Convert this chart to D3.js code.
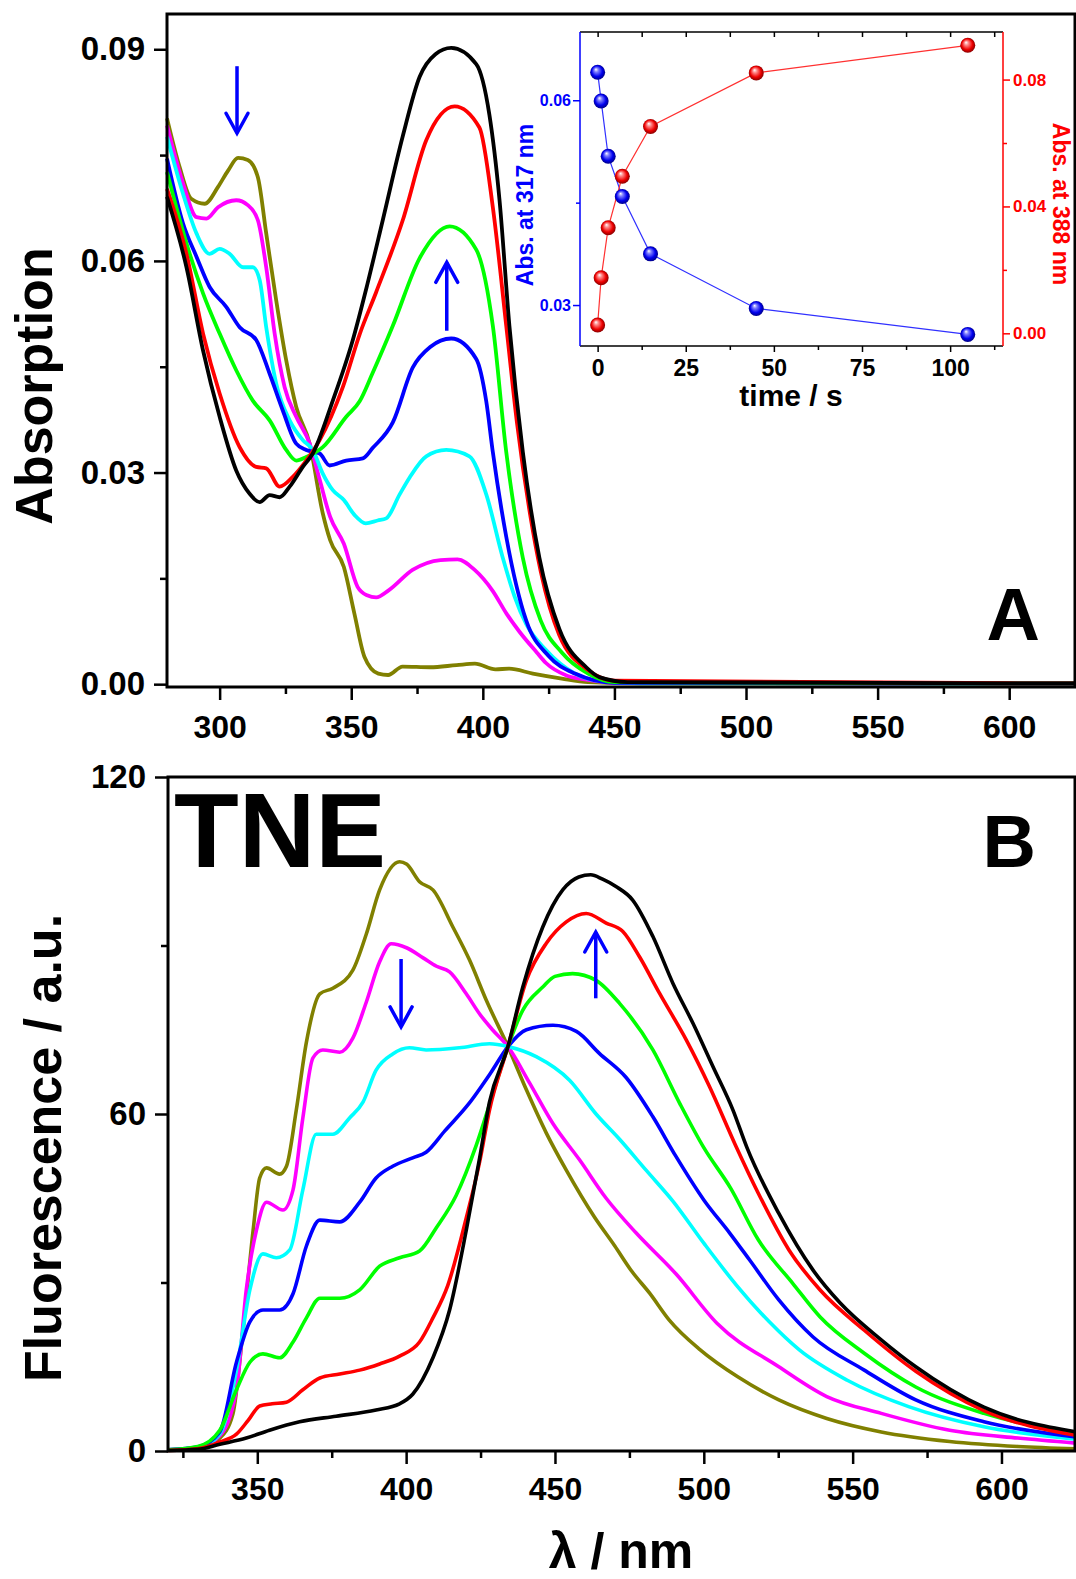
<!DOCTYPE html>
<html>
<head>
<meta charset="utf-8">
<script src="https://d3js.org/d3.v7.min.js"></script>
<style>
body { margin: 0; background: #fff; }
text { font-family: 'Liberation Sans', Arial, sans-serif; font-weight: bold; }
</style>
</head>
<body>
<svg id="chart" width="1076" height="1579"></svg>
<script>

// ---- Panel A : absorption spectra [wavelength nm, absorbance] ----
var absOlive = [[280,0.0802],[284.8,0.0733],[289.2,0.0688],[294.3,0.0681],[299.4,0.0705],[303.2,0.0728],[307,0.0746],[310.7,0.0743],[314.5,0.0719],[317.7,0.0639],[321.5,0.0544],[325.3,0.0459],[329.1,0.0393],[334.2,0.0341],[339.2,0.0242],[342,0.0204],[347.2,0.0166],[351.2,0.0100],[355,0.0039],[360.3,0.0015],[364,0.0013],[369.5,0.0025],[380,0.0024],[390,0.0027],[397,0.0029],[404.8,0.0021],[410,0.0022],[419,0.0015],[430,0.0008],[440,0.0003],[460,0.0001],[625,0.0001]];
var absMagenta = [[280,0.0792],[286.1,0.0710],[291.2,0.0662],[295,0.0660],[299.4,0.0676],[306.3,0.0686],[310.7,0.0679],[314.5,0.0658],[317.7,0.0591],[320.9,0.0497],[324.7,0.0421],[329.1,0.0379],[334.2,0.0341],[338,0.0290],[342,0.0237],[347.2,0.0199],[352.4,0.0138],[356,0.0126],[359.5,0.0123],[364.2,0.0133],[373.3,0.0162],[383.9,0.0176],[390.4,0.0177],[396.9,0.0162],[403.8,0.0132],[409,0.0100],[414,0.0074],[420.5,0.0045],[424,0.0030],[432,0.0012],[440,0.0006],[450,0.0002],[625,0.0001]];
var absCyan = [[280,0.0776],[286.1,0.0695],[291.2,0.0639],[296.2,0.0610],[300,0.0617],[303.8,0.0610],[308.9,0.0591],[312.6,0.0591],[315.2,0.0573],[317.7,0.0506],[321.5,0.0426],[326.6,0.0374],[331.6,0.0346],[335.4,0.0332],[339,0.0300],[343,0.0275],[347.2,0.0261],[351.2,0.0240],[355.5,0.0228],[360,0.0232],[363.3,0.0235],[368.4,0.0269],[372.2,0.0293],[378.5,0.0323],[386.1,0.0332],[394.9,0.0323],[401.3,0.0269],[407.6,0.0179],[412,0.0125],[416.5,0.0085],[424.1,0.0048],[435,0.0015],[445,0.0004],[460,0.0001],[625,0.0001]];
var absBlue = [[280,0.0745],[286.1,0.0653],[291.2,0.0606],[296.2,0.0563],[302.5,0.0535],[307.6,0.0506],[313.9,0.0488],[319,0.0440],[324,0.0388],[329.1,0.0341],[332.9,0.0332],[338,0.0327],[341.8,0.0310],[348.1,0.0317],[354.4,0.0320],[358.2,0.0335],[365.8,0.0371],[373.4,0.0449],[380,0.0478],[388,0.0490],[397.5,0.0461],[401.3,0.0401],[403.8,0.0329],[408.9,0.0209],[416.5,0.0090],[425,0.0040],[435,0.0015],[450,0.0002],[625,0.0001]];
var absGreen = [[280,0.0726],[287.4,0.0625],[293.7,0.0554],[300,0.0497],[306.3,0.0445],[312.6,0.0402],[319,0.0374],[325.3,0.0332],[329.1,0.0317],[332.9,0.0322],[339.2,0.0336],[348.1,0.0379],[353.2,0.0401],[358,0.0440],[365.8,0.0508],[376,0.0604],[387.4,0.0649],[397.5,0.0616],[403.8,0.0508],[408.9,0.0329],[415.2,0.0179],[422,0.0090],[430,0.0045],[440,0.0015],[450,0.0003],[625,0.0001]];
var absRed = [[280,0.0702],[287.4,0.0610],[293.7,0.0497],[300,0.0412],[307.6,0.0336],[313.9,0.0308],[317.7,0.0306],[322.8,0.0280],[327.8,0.0294],[332.9,0.0317],[338,0.0346],[346.8,0.0421],[353.2,0.0496],[359.5,0.0556],[369.6,0.0658],[378.5,0.0771],[389.3,0.0819],[398.7,0.0789],[403.8,0.0676],[408.9,0.0508],[413,0.0370],[418,0.0240],[422,0.0160],[429,0.0070],[440,0.0020],[450,0.0005],[625,0.0001]];
var absBlack = [[280,0.0691],[287.4,0.0591],[293.7,0.0473],[300,0.0379],[306.3,0.0303],[311.4,0.0270],[315.2,0.0258],[319,0.0268],[322.8,0.0265],[326.6,0.0280],[331.6,0.0308],[335.4,0.0327],[343,0.0402],[350.6,0.0488],[356,0.0565],[362,0.0658],[369.6,0.0777],[376,0.0861],[382,0.0893],[388,0.0902],[397.5,0.0879],[402.5,0.0807],[406.3,0.0688],[410.1,0.0508],[415.2,0.0329],[421.5,0.0179],[429.1,0.0078],[439.3,0.0024],[444.3,0.0010],[455,0.0003],[625,0.0001]];

// ---- Inset : kinetics ----
var kinTime = [0, 1, 3, 7, 15, 45, 105];
var abs317 = [0.0641, 0.0599, 0.0518, 0.0459, 0.0375, 0.0295, 0.0257];
var abs388 = [0.0026, 0.0175, 0.0333, 0.0495, 0.0652, 0.0821, 0.0908];

// ---- Panel B : fluorescence spectra [wavelength nm, intensity] ----
var flOlive = [[320,0.2],[330,0.5],[337.4,2.3],[341.8,6.6],[345.2,21.5],[348.6,39.3],[350.8,48.6],[353.1,50.4],[357.5,49.3],[359.8,50.7],[363.1,60.7],[366.5,72.8],[371,81.4],[375.4,82.4],[382.1,85.6],[386.6,92],[391.1,99.9],[397.8,104.9],[400.1,104.5],[404.6,101.3],[409,99.9],[415.7,93.3],[421.3,87.4],[426.9,80.3],[434.2,72],[440.4,64.3],[447.1,56.6],[453.8,50],[463.2,41.7],[470.1,36.5],[475.8,32],[481.8,28.1],[488.4,23.3],[498.8,18],[511.4,13.2],[525.2,9.1],[541.3,5.8],[559.6,3.4],[582.6,1.7],[605.5,0.8],[625,0.4]];
var flMagenta = [[320,0.2],[330,0.6],[337.4,2.7],[343,10.9],[346.3,28.7],[349.7,39.3],[353.1,44.3],[358.6,42.9],[362,46.5],[365.3,59.3],[368.7,70],[372,71.4],[377.7,71],[382.1,73.5],[386.6,79.9],[391.1,87.1],[395,90.3],[400.1,89.6],[405.7,87.8],[410.2,86.3],[414.6,85.3],[420.2,81.4],[424.7,77.8],[429,75],[434.2,72],[441.5,65.5],[449.3,58.3],[458.3,51.8],[467.2,45],[477.3,38.8],[490.7,31.5],[504.5,22.7],[525.2,15],[541.3,9.7],[559.6,6.7],[582.6,3.7],[605.5,2.3],[625,1.4]];
var flCyan = [[320,0.2],[330,0.6],[337.4,3],[343,14.4],[347.5,28.7],[351.9,35.1],[356.4,34.4],[360.9,35.8],[365.3,46.5],[369.8,56.4],[375.4,56.4],[381,59.3],[385.5,62.1],[389.9,67.8],[395.5,70.7],[401.1,71.8],[406.7,71.4],[417.9,71.8],[428,72.5],[434.2,72],[443.7,70.2],[454.9,66],[463.8,60],[471.7,55.5],[480.6,50],[489.6,44.5],[500,37],[511,29.5],[522,23],[532.1,18],[548.2,12.6],[568.8,7.9],[594.1,4.3],[625,2.1]];
var flBlue = [[320,0.2],[330,0.7],[337.4,3.4],[343,15.8],[347.5,23],[351.9,25.1],[357.5,25.1],[362,28],[366.5,36.5],[371,41.1],[377.7,40.8],[384.4,44.3],[389.9,48.6],[395.5,50.7],[402.2,52.2],[406.7,53.2],[413,57],[421,61.8],[428.5,67.4],[434.2,72],[440.4,75],[449.3,75.8],[457.2,74.7],[464.9,70.8],[473.9,66.5],[482.9,59.5],[490.7,52.4],[500,44.7],[508.7,38.8],[515.4,34],[525.2,26.9],[536.7,20.3],[553.9,14.4],[571.2,9.1],[594.1,5.2],[625,2.5]];
var flGreen = [[320,0.2],[330,0.8],[337.4,3.7],[343,10.9],[347.5,15.8],[351.9,17.3],[357.5,16.6],[362,19.4],[366.5,23.7],[371,27.2],[377.7,27.2],[384.4,28.7],[391.1,32.9],[397.8,34.4],[404.5,35.6],[410.2,39.8],[416.8,45.5],[423.6,54.5],[428.5,62.5],[434.2,72],[439.2,78.5],[445.9,82.6],[450,84.5],[455.9,85],[463.8,83.8],[471.7,79.7],[482.9,71.4],[491.9,61.9],[500,54],[509,46.8],[518.3,37.6],[529.8,29.9],[539,23.9],[553.9,17.4],[571.2,11.4],[594.1,6.7],[625,3.2]];
var flRed = [[320,0.1],[330,0.4],[337.4,1.6],[343,3],[347,5.5],[350.8,8],[355,8.4],[359.8,8.7],[365.3,10.9],[371,13],[377.7,13.7],[384.4,14.4],[391.1,15.5],[397.8,16.9],[404.5,19.4],[409,23.7],[414,29.5],[420.2,41.5],[424.7,51.5],[428,60.7],[434.2,72],[440.4,83.8],[447.1,90.4],[453.8,94.2],[460.5,95.7],[467.2,94],[472.8,92.5],[478.4,88],[485.1,81.5],[494.1,73.2],[501.9,64.9],[510.6,54.5],[518.3,45.9],[528.6,35.8],[539,28.7],[553.9,21.5],[571.2,14.2],[594.1,7.2],[625,2.8]];
var flBlack = [[320,0.1],[330,0.3],[337.4,1.2],[346.3,2.3],[354.1,3.7],[364.2,5.2],[376.5,6.2],[389.9,7.3],[397.8,8.4],[402.2,10.1],[409,16.6],[414.6,25.1],[420.2,39.3],[424.7,52.2],[428,62.1],[434.2,72],[439.2,82.6],[445.9,93.3],[452.6,99.9],[458,102.2],[462,102.6],[466,101.8],[470.5,100.5],[476.1,98.1],[482.9,91.6],[489.6,83.3],[496.4,76.1],[503.1,68.4],[509.8,60.7],[514.5,54],[525.2,42.3],[536.7,32.2],[545.9,26.3],[559.6,19.8],[571.2,15],[594.1,7.8],[625,3.4]];

// ---- ticks ----
var absXTicks = [300, 350, 400, 450, 500, 550, 600];
var absYTicks = [0, 0.03, 0.06, 0.09];
var flXTicks = [350, 400, 450, 500, 550, 600];
var flYTicks = [0, 60, 120];
var kinXTicks = [0, 25, 50, 75, 100];
var kinYLTicks = [0.03, 0.06];
var kinYRTicks = [0, 0.04, 0.08];

// draw order: olive first, black on top
var seriesColors = ['#808000', '#ff00ff', '#00ffff', '#0000ff', '#00ff00', '#ff0000', '#000000'];
var absSeries = [absOlive, absMagenta, absCyan, absBlue, absGreen, absRed, absBlack];
var flSeries = [flOlive, flMagenta, flCyan, flBlue, flGreen, flRed, flBlack];

var svg = d3.select('#chart');

// arrowhead + shaft helper
var drawArrow = function(g, x, y1, y2) {
	var dir = y2 > y1 ? -1 : 1;
	g.append('line').attr('x1', x).attr('x2', x).attr('y1', y1).attr('y2', y2)
		.attr('stroke', '#0000ff').attr('stroke-width', 3.5);
	g.append('path')
		.attr('d', 'M' + (x - 11) + ',' + (y2 + dir * 20) + 'L' + x + ',' + y2 + 'L' + (x + 11) + ',' + (y2 + dir * 20))
		.attr('fill', 'none').attr('stroke', '#0000ff').attr('stroke-width', 3.5)
		.attr('stroke-linecap', 'round').attr('stroke-linejoin', 'miter');
};

var styleAxis = function(g, color, fontSize, width) {
	g.select('.domain').remove();
	g.selectAll('.tick line').attr('stroke', color).attr('stroke-width', width || 2.5);
	g.selectAll('.tick text').attr('fill', color).style('font-size', fontSize + 'px');
};

/**
 * Panel A
 */
var xA = d3.scaleLinear().domain([280, 625]).range([167, 1075]);
var yA = d3.scaleLinear().domain([-0.0004, 0.095]).range([687, 14]);

var gA = svg.append('g');

var lineA = d3.line()
	.x(function(d) { return xA(d[0]); })
	.y(function(d) { return yA(d[1]); })
	.curve(d3.curveMonotoneX);

gA.selectAll('.absLine').data(absSeries).enter().append('path')
	.attr('class', 'absLine')
	.attr('d', lineA)
	.attr('fill', 'none')
	.attr('stroke', function(d, i) { return seriesColors[i]; })
	.attr('stroke-width', 3.8)
	.attr('stroke-linejoin', 'round');

// axes
var axA = gA.append('g').attr('transform', 'translate(0,687)')
	.call(d3.axisBottom(xA).tickValues(absXTicks).tickSize(13).tickPadding(15).tickFormat(d3.format('d')));
styleAxis(axA, '#000', 32);
var axAm = gA.append('g').attr('transform', 'translate(0,687)')
	.call(d3.axisBottom(xA).tickValues([325, 375, 425, 475, 525, 575]).tickSize(7).tickFormat(''));
styleAxis(axAm, '#000', 32);

var ayA = gA.append('g').attr('transform', 'translate(167,0)')
	.call(d3.axisLeft(yA).tickValues(absYTicks).tickSize(13).tickPadding(9).tickFormat(d3.format('.2f')));
styleAxis(ayA, '#000', 33);
var ayAm = gA.append('g').attr('transform', 'translate(167,0)')
	.call(d3.axisLeft(yA).tickValues([0.015, 0.045, 0.075]).tickSize(7).tickFormat(''));
styleAxis(ayAm, '#000', 33);

gA.append('rect').attr('x', 167).attr('y', 14).attr('width', 1075 - 167).attr('height', 687 - 14)
	.attr('fill', 'none').attr('stroke', '#000').attr('stroke-width', 3);

gA.append('text').attr('transform', 'translate(52,386) rotate(-90)')
	.attr('text-anchor', 'middle').style('font-size', '52px').text('Absorption');
gA.append('text').attr('x', 1040).attr('y', 640).attr('text-anchor', 'end')
	.style('font-size', '74px').text('A');

drawArrow(gA, xA(306.6), yA(0.0876), yA(0.0781));
drawArrow(gA, xA(386.3), yA(0.0501), yA(0.0598));

/**
 * Inset (kinetics)
 */
var xK = d3.scaleLinear().domain([-5, 115]).range([580, 1003]);
var yKL = d3.scaleLinear().domain([0.024, 0.07]).range([346, 32]);
var yKR = d3.scaleLinear().domain([-0.004, 0.095]).range([346, 32]);

var gK = svg.append('g');

var defs = svg.append('defs');
var makeBall = function(id, light, base, dark) {
	var grad = defs.append('radialGradient').attr('id', id)
		.attr('cx', '50%').attr('cy', '50%').attr('r', '55%')
		.attr('fx', '38%').attr('fy', '30%');
	grad.append('stop').attr('offset', '0%').attr('stop-color', '#ffffff');
	grad.append('stop').attr('offset', '25%').attr('stop-color', light);
	grad.append('stop').attr('offset', '65%').attr('stop-color', base);
	grad.append('stop').attr('offset', '100%').attr('stop-color', dark);
};
makeBall('ballBlue', '#8080ff', '#0000ee', '#000070');
makeBall('ballRed', '#ff8a8a', '#ee0000', '#700000');

var kinBlue = kinTime.map(function(t, i) { return [t, abs317[i]]; });
var kinRed = kinTime.map(function(t, i) { return [t, abs388[i]]; });

gK.append('path').datum(kinBlue)
	.attr('d', d3.line().x(function(d) { return xK(d[0]); }).y(function(d) { return yKL(d[1]); }))
	.attr('fill', 'none').attr('stroke', '#3030ff').attr('stroke-width', 1.2);
gK.append('path').datum(kinRed)
	.attr('d', d3.line().x(function(d) { return xK(d[0]); }).y(function(d) { return yKR(d[1]); }))
	.attr('fill', 'none').attr('stroke', '#ff3030').attr('stroke-width', 1.2);

gK.selectAll('.ballBlue').data(kinBlue).enter().append('circle')
	.attr('class', 'ballBlue')
	.attr('cx', function(d) { return xK(d[0]); })
	.attr('cy', function(d) { return yKL(d[1]); })
	.attr('r', 7.5).attr('fill', 'url(#ballBlue)');
gK.selectAll('.ballRed').data(kinRed).enter().append('circle')
	.attr('class', 'ballRed')
	.attr('cx', function(d) { return xK(d[0]); })
	.attr('cy', function(d) { return yKR(d[1]); })
	.attr('r', 7.5).attr('fill', 'url(#ballRed)');

var axK = gK.append('g').attr('transform', 'translate(0,346)')
	.call(d3.axisBottom(xK).tickValues(kinXTicks).tickSize(6).tickPadding(8).tickFormat(d3.format('d')));
styleAxis(axK, '#000', 23, 1.5);
var axKm = gK.append('g').attr('transform', 'translate(0,346)')
	.call(d3.axisBottom(xK).tickValues([12.5, 37.5, 62.5, 87.5, 112.5]).tickSize(4).tickFormat(''));
styleAxis(axKm, '#000', 23, 1.5);
var axKt = gK.append('g').attr('transform', 'translate(0,32)')
	.call(d3.axisTop(xK).tickValues([0, 12.5, 25, 37.5, 50, 62.5, 75, 87.5, 100, 112.5]).tickSize(-5).tickFormat(''));
styleAxis(axKt, '#000', 23, 1.5);

var ayKL = gK.append('g').attr('transform', 'translate(580,0)')
	.call(d3.axisLeft(yKL).tickValues(kinYLTicks).tickSize(7).tickPadding(2).tickFormat(d3.format('.2f')));
styleAxis(ayKL, '#0000ff', 16, 1.5);
var ayKLm = gK.append('g').attr('transform', 'translate(580,0)')
	.call(d3.axisLeft(yKL).tickValues([0.045]).tickSize(4).tickFormat(''));
styleAxis(ayKLm, '#0000ff', 16, 1.5);

var ayKR = gK.append('g').attr('transform', 'translate(1003,0)')
	.call(d3.axisRight(yKR).tickValues(kinYRTicks).tickSize(7).tickPadding(3).tickFormat(d3.format('.2f')));
styleAxis(ayKR, '#ff0000', 17, 1.5);
var ayKRm = gK.append('g').attr('transform', 'translate(1003,0)')
	.call(d3.axisRight(yKR).tickValues([0.02, 0.06]).tickSize(4).tickFormat(''));
styleAxis(ayKRm, '#ff0000', 17, 1.5);

// inset frame: black top/bottom, blue left, red right
gK.append('line').attr('x1', 580).attr('x2', 1003).attr('y1', 32).attr('y2', 32).attr('stroke', '#000').attr('stroke-width', 1.5);
gK.append('line').attr('x1', 580).attr('x2', 1003).attr('y1', 346).attr('y2', 346).attr('stroke', '#000').attr('stroke-width', 1.5);
gK.append('line').attr('x1', 580).attr('x2', 580).attr('y1', 32).attr('y2', 346).attr('stroke', '#0000ff').attr('stroke-width', 1.5);
gK.append('line').attr('x1', 1003).attr('x2', 1003).attr('y1', 32).attr('y2', 346).attr('stroke', '#ff0000').attr('stroke-width', 1.5);

gK.append('text').attr('x', 791).attr('y', 406).attr('text-anchor', 'middle')
	.style('font-size', '30px').text('time / s');
gK.append('text').attr('transform', 'translate(533,205) rotate(-90)')
	.attr('text-anchor', 'middle').attr('fill', '#0000ff').style('font-size', '23px').text('Abs. at 317 nm');
gK.append('text').attr('transform', 'translate(1053,204) rotate(90)')
	.attr('text-anchor', 'middle').attr('fill', '#ff0000').style('font-size', '23px').text('Abs. at 388 nm');

/**
 * Panel B
 */
var xB = d3.scaleLinear().domain([320, 624.7]).range([168, 1075]);
var yB = d3.scaleLinear().domain([0, 120]).range([1451, 777]);

var gB = svg.append('g');

var lineB = d3.line()
	.x(function(d) { return xB(d[0]); })
	.y(function(d) { return yB(d[1]); })
	.curve(d3.curveMonotoneX);

gB.selectAll('.flLine').data(flSeries).enter().append('path')
	.attr('class', 'flLine')
	.attr('d', lineB)
	.attr('fill', 'none')
	.attr('stroke', function(d, i) { return seriesColors[i]; })
	.attr('stroke-width', 3.6)
	.attr('stroke-linejoin', 'round');

var axB = gB.append('g').attr('transform', 'translate(0,1451)')
	.call(d3.axisBottom(xB).tickValues(flXTicks).tickSize(13).tickPadding(13).tickFormat(d3.format('d')));
styleAxis(axB, '#000', 32);
var axBm = gB.append('g').attr('transform', 'translate(0,1451)')
	.call(d3.axisBottom(xB).tickValues([325, 375, 425, 475, 525, 575]).tickSize(7).tickFormat(''));
styleAxis(axBm, '#000', 32);

var ayB = gB.append('g').attr('transform', 'translate(168,0)')
	.call(d3.axisLeft(yB).tickValues(flYTicks).tickSize(13).tickPadding(9).tickFormat(d3.format('d')));
styleAxis(ayB, '#000', 33);
var ayBm = gB.append('g').attr('transform', 'translate(168,0)')
	.call(d3.axisLeft(yB).tickValues([30, 90]).tickSize(7).tickFormat(''));
styleAxis(ayBm, '#000', 33);

gB.append('rect').attr('x', 168).attr('y', 777).attr('width', 1075 - 168).attr('height', 1451 - 777)
	.attr('fill', 'none').attr('stroke', '#000').attr('stroke-width', 3);

gB.append('text').attr('transform', 'translate(61,1148) rotate(-90)')
	.attr('text-anchor', 'middle').style('font-size', '52px').text('Fluorescence / a.u.');
gB.append('text').attr('x', 621).attr('y', 1568).attr('text-anchor', 'middle')
	.style('font-size', '50px').text('\u03bb / nm');
gB.append('text').attr('x', 1036).attr('y', 867).attr('text-anchor', 'end')
	.style('font-size', '74px').text('B');
gB.append('text').attr('x', 174).attr('y', 867)
	.style('font-size', '106px').text('TNE');

drawArrow(gB, xB(398.3), yB(87.6), yB(75.5));
drawArrow(gB, xB(463.7), yB(80.6), yB(92.4));

</script>
</body>
</html>
